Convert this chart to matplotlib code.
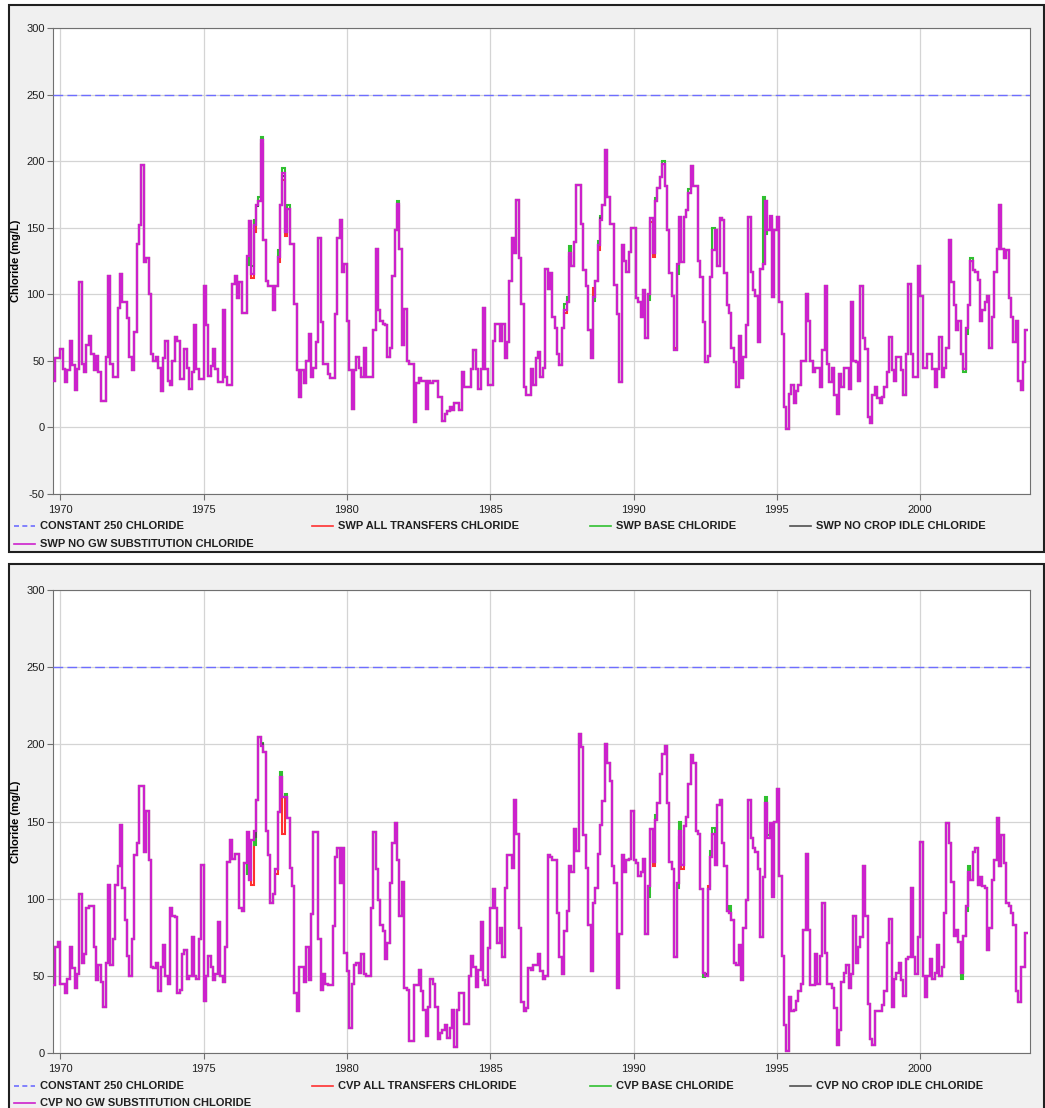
import numpy as np
import matplotlib
matplotlib.use("Agg")
import matplotlib.pyplot as plt
from matplotlib.lines import Line2D
from matplotlib.patches import Rectangle

plt.rcParams['font.family'] = ['Liberation Sans', 'DejaVu Sans']
plt.rcParams['axes.unicode_minus'] = False

W, H = 1045, 1108
start = 1969.75  # monthly values, Oct 1969 - Sep 2003

# SWP NO GW SUBSTITUTION chloride (mg/L), one row per water year
swp_nogw = [
    35, 52, 52, 59, 44, 34, 43, 65, 47, 28, 44, 109,
    48, 42, 62, 69, 55, 43, 54, 42, 20, 20, 53, 114,
    48, 38, 38, 90, 115, 94, 94, 82, 53, 43, 72, 138,
    152, 197, 124, 127, 100, 55, 50, 53, 45, 27, 52, 65,
    35, 32, 50, 68, 65, 36, 36, 59, 45, 29, 42, 77,
    44, 36, 36, 106, 77, 39, 46, 59, 44, 34, 34, 88,
    38, 32, 32, 108, 114, 97, 109, 86, 86, 129, 155, 115,
    152, 167, 170, 216, 141, 110, 106, 106, 88, 106, 128, 167,
    191, 147, 164, 138, 138, 93, 43, 23, 43, 33, 50, 70,
    38, 45, 64, 142, 79, 48, 48, 40, 37, 37, 85, 142,
    156, 117, 123, 80, 43, 14, 43, 53, 45, 38, 60, 38,
    38, 38, 73, 134, 88, 80, 78, 77, 53, 60, 114, 148,
    168, 134, 62, 89, 50, 48, 48, 4, 33, 37, 35, 35,
    14, 35, 33, 35, 35, 23, 23, 5, 10, 12, 15, 13,
    18, 18, 13, 42, 30, 30, 30, 44, 58, 44, 29, 44,
    90, 44, 32, 32, 65, 78, 78, 65, 78, 52, 64, 110,
    142, 131, 171, 127, 93, 30, 24, 24, 44, 32, 52, 57,
    38, 45, 119, 104, 116, 83, 75, 55, 47, 75, 88, 94,
    131, 121, 139, 182, 182, 153, 118, 106, 73, 52, 98, 110,
    137, 156, 167, 208, 173, 153, 153, 107, 85, 34, 137, 125,
    117, 132, 150, 150, 97, 94, 83, 103, 67, 100, 157, 131,
    170, 180, 188, 198, 181, 148, 116, 99, 58, 123, 158, 124,
    158, 163, 176, 196, 181, 181, 125, 113, 79, 49, 54, 113,
    133, 148, 121, 157, 156, 116, 92, 86, 60, 49, 30, 69,
    37, 53, 77, 158, 117, 103, 99, 64, 119, 123, 170, 148,
    159, 98, 148, 158, 94, 70, 15, -1, 25, 32, 18, 27,
    32, 50, 50, 100, 80, 50, 42, 45, 45, 30, 58, 106,
    48, 34, 45, 24, 10, 40, 30, 45, 45, 29, 94, 50,
    49, 35, 106, 67, 59, 8, 3, 24, 30, 22, 18, 23,
    30, 42, 68, 43, 35, 53, 53, 43, 24, 55, 108, 55,
    38, 38, 121, 99, 45, 45, 55, 55, 44, 30, 44, 68,
    38, 45, 60, 141, 109, 92, 73, 80, 55, 44, 75, 92,
    125, 118, 117, 111, 80, 88, 94, 99, 60, 83, 117, 134,
    167, 134, 127, 133, 97, 83, 64, 80, 35, 28, 49, 73,
]
# months where the other SWP runs differ from the one above
swp_all_transfers = {81: 126, 83: 112, 84: 147, 87: 213, 94: 124, 96: 186, 97: 144,
                     144: 166, 214: 86, 216: 128, 226: 105, 228: 133, 250: 154,
                     251: 128, 260: 60, 261: 119, 262: 155, 300: 156}
swp_base = {81: 122, 83: 121, 84: 156, 86: 173, 87: 218, 94: 133, 96: 195, 98: 167,
            144: 170, 214: 93, 215: 98, 216: 136, 226: 95, 228: 140, 229: 159,
            249: 96, 252: 172, 255: 200, 261: 115, 266: 179, 276: 150, 297: 173,
            298: 145, 381: 42, 382: 70, 384: 127}
swp_no_crop_idle = {85: 166, 96: 189, 229: 157, 300: 157}

# CVP NO GW SUBSTITUTION chloride (mg/L)
cvp_nogw = [
    44, 69, 72, 45, 45, 39, 48, 69, 55, 42, 51, 103,
    58, 64, 94, 95, 95, 69, 47, 57, 46, 30, 58, 109,
    57, 74, 109, 121, 148, 107, 86, 63, 50, 74, 128, 136,
    173, 173, 130, 157, 125, 56, 55, 58, 40, 56, 70, 50,
    45, 94, 89, 88, 39, 41, 64, 67, 48, 50, 75, 50,
    48, 74, 122, 34, 50, 63, 56, 47, 51, 85, 50, 46,
    69, 124, 138, 126, 129, 129, 94, 92, 123, 143, 112, 138,
    144, 164, 205, 199, 195, 144, 128, 97, 103, 119, 156, 179,
    166, 166, 152, 120, 108, 39, 27, 56, 56, 46, 69, 47,
    90, 143, 143, 74, 41, 51, 45, 44, 44, 82, 127, 133,
    110, 133, 65, 53, 16, 45, 57, 58, 52, 64, 51, 50,
    50, 94, 143, 119, 99, 83, 79, 61, 71, 110, 136, 149,
    125, 89, 111, 42, 41, 8, 8, 44, 44, 54, 40, 28,
    11, 30, 48, 45, 30, 9, 13, 15, 18, 10, 16, 28,
    4, 28, 39, 39, 19, 19, 50, 63, 56, 43, 54, 85,
    47, 44, 68, 94, 106, 94, 71, 81, 62, 107, 128, 128,
    120, 164, 142, 81, 33, 27, 29, 55, 54, 57, 57, 64,
    53, 48, 50, 128, 127, 125, 125, 91, 62, 51, 79, 92,
    121, 117, 145, 131, 207, 198, 141, 120, 83, 53, 97, 107,
    129, 148, 163, 200, 188, 176, 121, 110, 42, 77, 128, 117,
    125, 126, 157, 125, 123, 115, 117, 126, 77, 108, 145, 124,
    151, 162, 181, 194, 199, 162, 124, 119, 62, 110, 144, 122,
    147, 153, 174, 193, 188, 144, 142, 106, 52, 50, 106, 127,
    142, 122, 161, 164, 136, 121, 92, 91, 86, 58, 57, 70,
    47, 81, 99, 164, 139, 133, 130, 119, 75, 114, 162, 139,
    149, 101, 150, 171, 115, 63, 18, 1, 36, 27, 28, 34,
    40, 45, 80, 129, 80, 44, 44, 64, 45, 63, 97, 65,
    45, 45, 42, 29, 5, 15, 46, 52, 57, 42, 51, 89,
    58, 69, 75, 121, 89, 32, 9, 5, 27, 27, 27, 31,
    40, 71, 87, 30, 48, 52, 58, 47, 37, 61, 62, 107,
    62, 51, 75, 137, 50, 36, 50, 61, 48, 52, 70, 50,
    56, 91, 149, 136, 111, 76, 80, 72, 52, 76, 95, 117,
    112, 130, 133, 109, 114, 108, 107, 67, 81, 112, 125, 152,
    121, 141, 123, 97, 95, 91, 83, 40, 33, 56, 56, 78,
]
cvp_all_transfers = {83: 109, 93: 116, 96: 142, 251: 121, 262: 140, 263: 119,
                     274: 108, 300: 146, 383: 114}
cvp_base = {81: 116, 82: 120, 84: 135, 87: 201, 95: 182, 97: 168, 249: 101, 252: 154,
            261: 107, 262: 150, 272: 49, 275: 131, 276: 146, 283: 95, 298: 166,
            299: 141, 380: 48, 382: 92, 383: 121}
cvp_no_crop_idle = {84: 140, 87: 200, 273: 51, 301: 103}

constant = 250
years = [1970, 1975, 1980, 1985, 1990, 1995, 2000]

MAG = '#cc22cc'
RED = '#ff3030'
GRN = '#30c030'
GRY = '#505050'
BLU = '#6e6eff'


def with_changes(base, changes):
    v = list(base)
    for k, val in changes.items():
        v[k] = val
    return v


def fx(x):
    return x / W


def fy(y):
    return 1 - y / H


fig = plt.figure(figsize=(W / 100, H / 100), dpi=100)
fig.patch.set_facecolor('white')


def panel(frame, box, ylim, yticks, base, red, green, gray, prefix, leg_y):
    x0, y0, x1, y1 = frame
    fig.add_artist(Rectangle((fx(x0), fy(y1)), fx(x1 - x0), (y1 - y0) / H,
                             transform=fig.transFigure, facecolor='#f0f0f0',
                             edgecolor='#202020', lw=1.5, zorder=0))
    l, t, r, b = box
    ax = fig.add_axes([fx(l), fy(b), fx(r - l), (b - t) / H])
    ax.set_facecolor('white')
    edges = start + np.arange(len(base) + 1) / 12.0
    ax.axhline(constant, color=BLU, lw=1, dashes=(7, 3), zorder=3)
    ax.stairs(with_changes(base, red), edges, baseline=None, color=RED, lw=1.5, zorder=4)
    ax.stairs(with_changes(base, green), edges, baseline=None, color=GRN, lw=1.5, zorder=5)
    ax.stairs(with_changes(base, gray), edges, baseline=None, color=GRY, lw=1.5, zorder=6)
    ax.stairs(base, edges, baseline=None, color=MAG, lw=1.6, zorder=7)
    ax.set_xlim(start, 2003.83)
    ax.set_ylim(*ylim)
    ax.set_xticks(years)
    ax.set_yticks(yticks)
    ax.grid(True, color='#d4d4d4', lw=0.9)
    ax.set_axisbelow(True)
    for s in ax.spines.values():
        s.set_color('#707070')
    ax.tick_params(labelsize=8, length=4, pad=2, color='#707070', labelcolor='#202020')
    ax.tick_params(axis='x', pad=4)
    ax.set_ylabel('Chloride (mg/L)', fontsize=8, fontweight='bold', labelpad=4)

    labels = ['CONSTANT 250 CHLORIDE', prefix + ' ALL TRANSFERS CHLORIDE',
              prefix + ' BASE CHLORIDE', prefix + ' NO CROP IDLE CHLORIDE',
              prefix + ' NO GW SUBSTITUTION CHLORIDE']
    colors = [BLU, RED, GRN, GRY, MAG]
    spots = [(14, leg_y[0]), (312, leg_y[0]), (590, leg_y[0]), (790, leg_y[0]), (14, leg_y[1])]
    for i, (lab, c, (px, py)) in enumerate(zip(labels, colors, spots)):
        ln = Line2D([fx(px), fx(px + 21)], [fy(py), fy(py)], transform=fig.transFigure,
                    color=c, lw=1.2)
        if i == 0:
            ln.set_dashes((3, 2))
        fig.add_artist(ln)
        fig.text(fx(px + 26), fy(py), lab, fontsize=8, fontweight='bold',
                 va='center', ha='left', color='#202020')
    return ax


panel((9, 5, 1044, 552), (53, 28, 1030, 494), (-50, 300), range(-50, 301, 50),
      swp_nogw, swp_all_transfers, swp_base, swp_no_crop_idle, 'SWP', (526, 544))
panel((9, 564, 1044, 1112), (53, 590, 1030, 1053), (0, 300), range(0, 301, 50),
      cvp_nogw, cvp_all_transfers, cvp_base, cvp_no_crop_idle, 'CVP', (1086, 1103))

fig.savefig('out.png', dpi=100)
